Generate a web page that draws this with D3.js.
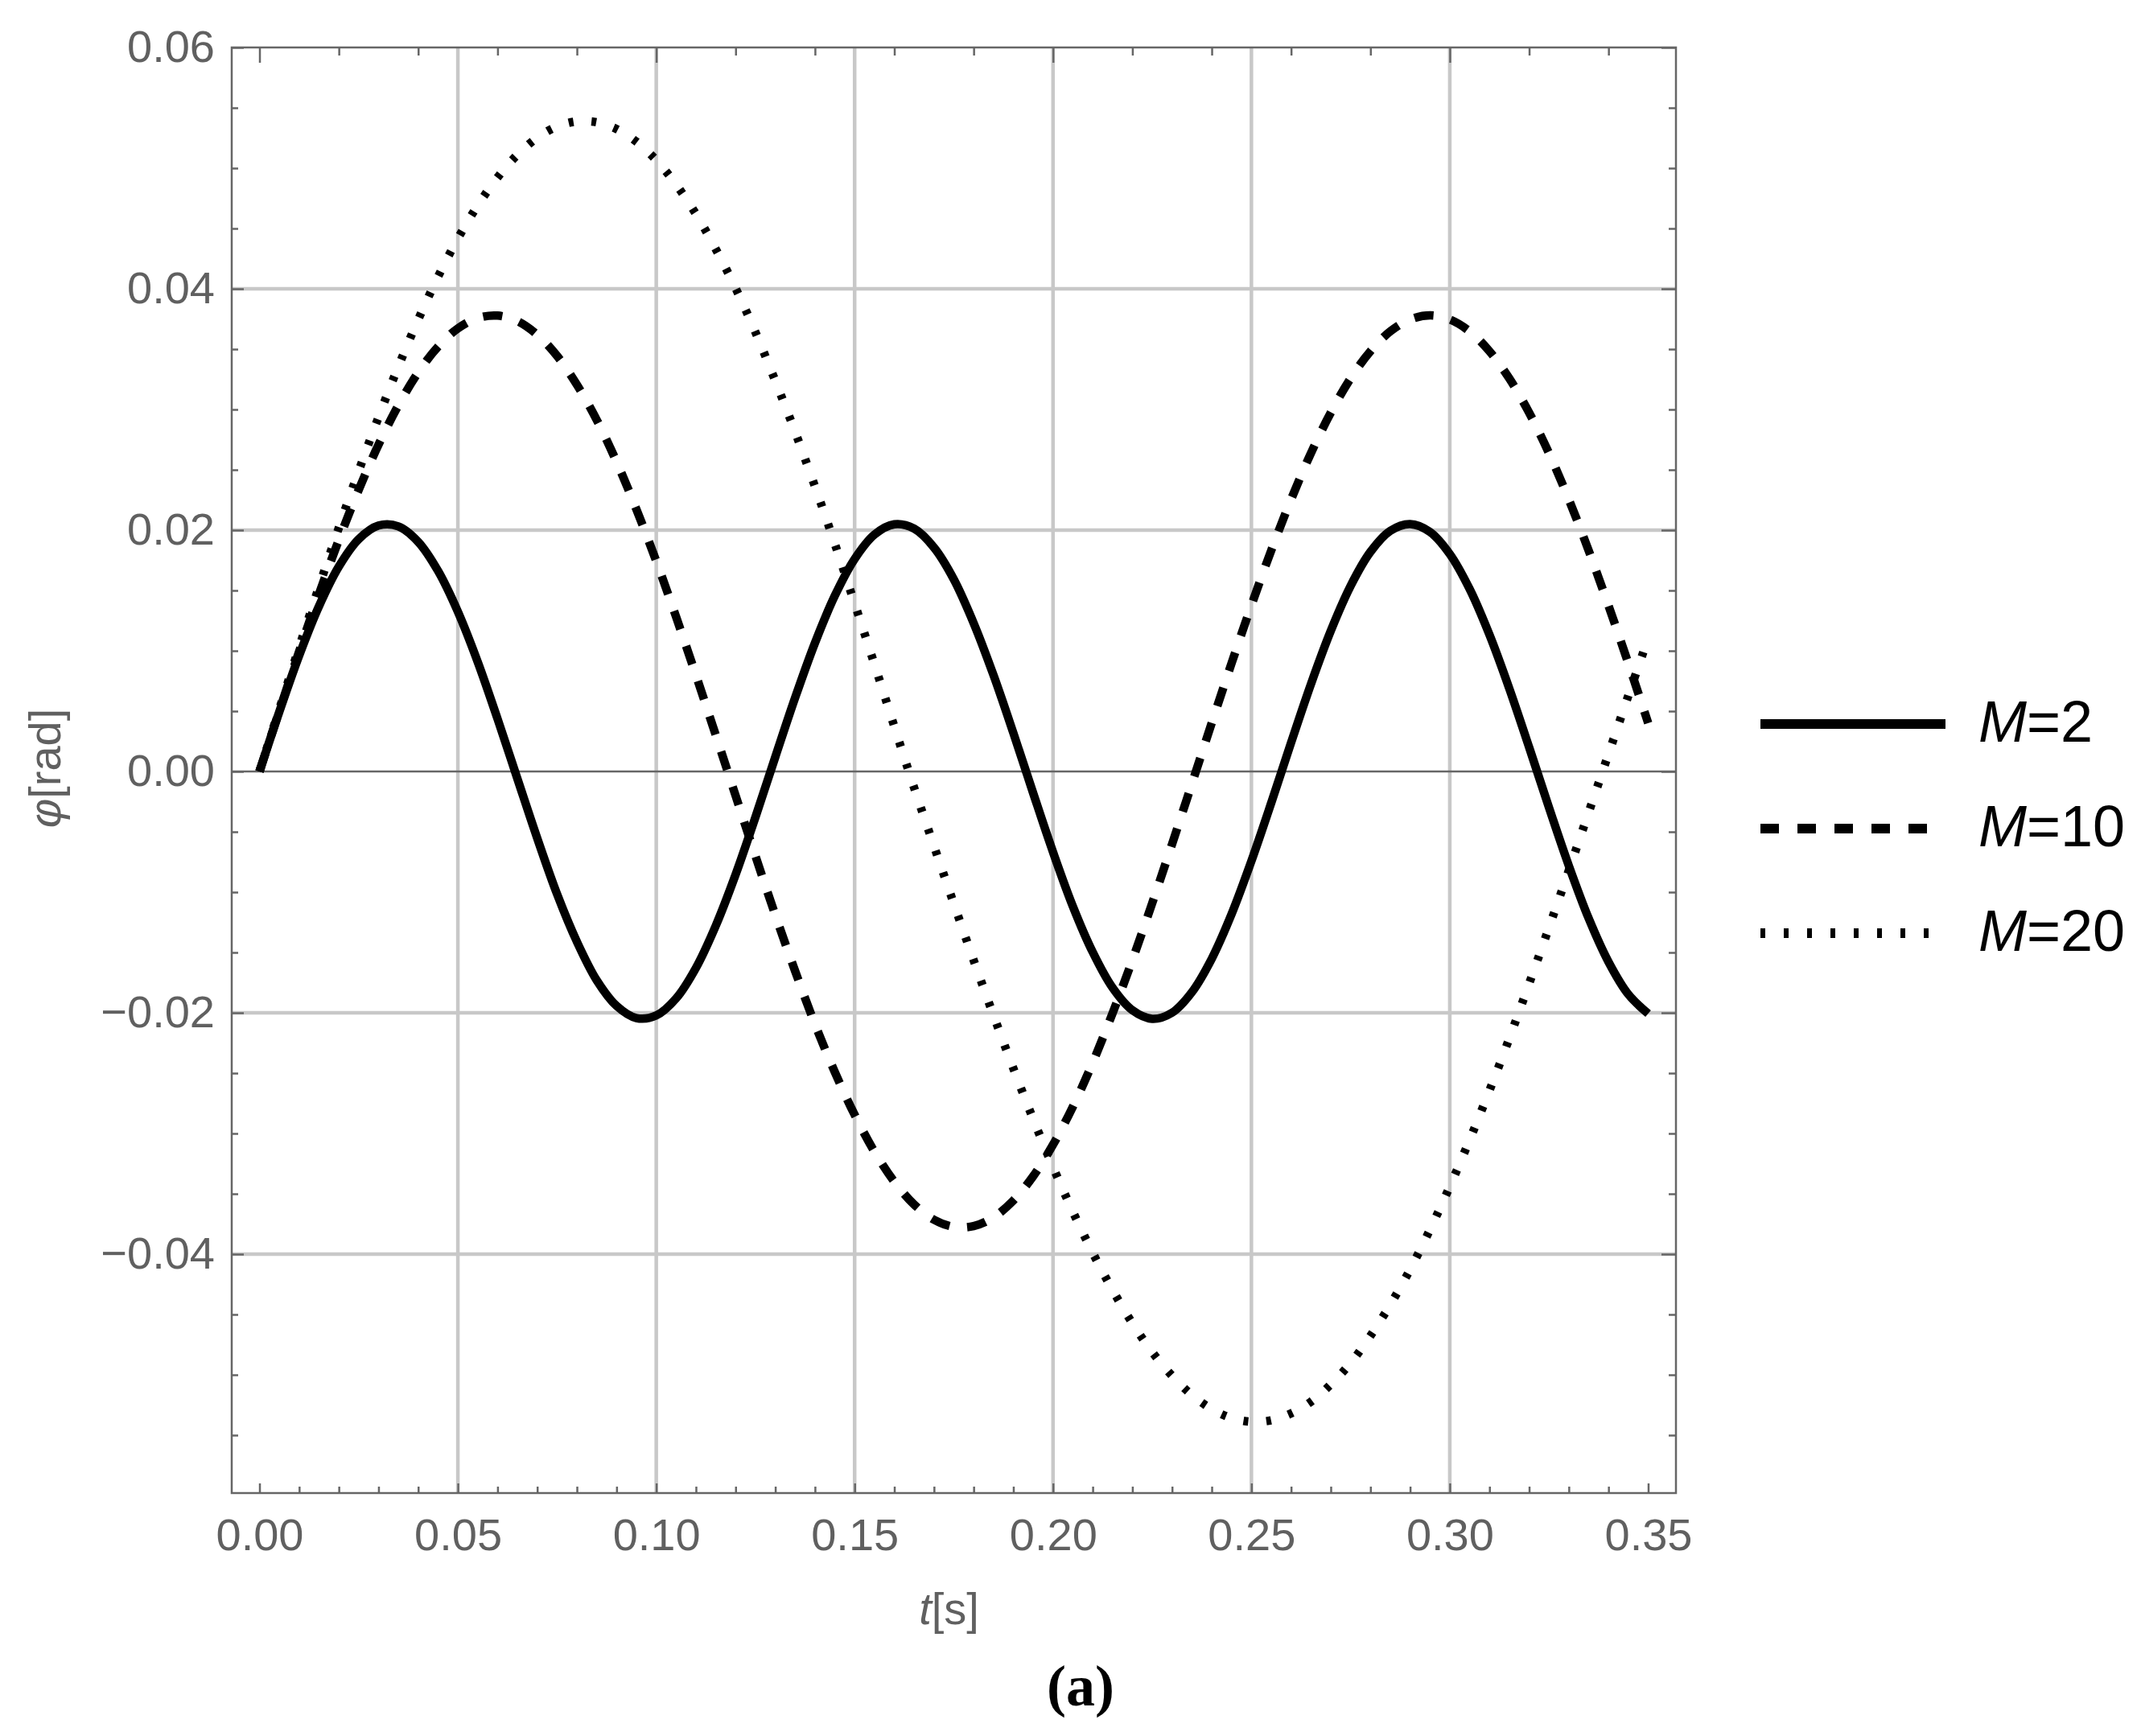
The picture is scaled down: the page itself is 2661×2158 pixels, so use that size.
<!DOCTYPE html>
<html>
<head>
<meta charset="utf-8">
<script src="https://cdn.jsdelivr.net/npm/d3@7"></script>
<style>
  html, body { margin: 0; padding: 0; background: #fff; }
  svg { display: block; }
</style>
</head>
<body>
<svg id="chart" width="2661" height="2158"></svg>
<script>
// ---------------- data ----------------
const seriesNames = ["M=2", "M=10", "M=20"];
const tValues = d3.range(71).map(i => +(i * 0.005).toFixed(3)); // 0 .. 0.35 s

const phiM2 = [
  0, 0.00495, 0.00961, 0.01370, 0.01698, 0.01925, 0.02038, 0.02031, 0.01903, 0.01662,
  0.01324, 0.00908, 0.00436, -0.00060, -0.00553, -0.01016, -0.01411, -0.01731, -0.01943, -0.02044,
  -0.02022, -0.01881, -0.01628, -0.01278, -0.00854, -0.00378, 0.00120, 0.00611, 0.01065, 0.01456,
  0.01761, 0.01963, 0.02048, 0.02012, 0.01856, 0.01592, 0.01229, 0.00798, 0.00319, -0.00180,
  -0.00668, -0.01118, -0.01497, -0.01792, -0.01979, -0.02050, -0.01999, -0.01829, -0.01552, -0.01182,
  -0.00742, -0.00260, 0.00239, 0.00724, 0.01165, 0.01538, 0.01820, 0.01994, 0.02050, 0.01985,
  0.01802, 0.01512, 0.01133, 0.00687, 0.00200, -0.00299, -0.00781, -0.01217, -0.01578, -0.01847,
  -0.02007
];
const phiM10 = [
  0, 0.00502, 0.00995, 0.01470, 0.01919, 0.02334, 0.02708, 0.03034, 0.03307, 0.03520,
  0.03672, 0.03758, 0.03778, 0.03732, 0.03619, 0.03444, 0.03205, 0.02913, 0.02566, 0.02172,
  0.01743, 0.01281, 0.00798, 0.00301, -0.00201, -0.00701, -0.01189, -0.01654, -0.02094, -0.02491,
  -0.02845, -0.03151, -0.03399, -0.03589, -0.03715, -0.03774, -0.03768, -0.03694, -0.03556, -0.03354,
  -0.03093, -0.02778, -0.02413, -0.02004, -0.01563, -0.01091, -0.00602, -0.00101, 0.00402, 0.00897,
  0.01377, 0.01832, 0.02254, 0.02638, 0.02973, 0.03258, 0.03483, 0.03647, 0.03746, 0.03780,
  0.03746, 0.03647, 0.03483, 0.03257, 0.02973, 0.02638, 0.02254, 0.01831, 0.01374, 0.00896,
  0.00401
];
const phiM20 = [
  0, 0.00517, 0.01029, 0.01531, 0.02020, 0.02490, 0.02936, 0.03356, 0.03745, 0.04100,
  0.04417, 0.04691, 0.04923, 0.05111, 0.05252, 0.05345, 0.05387, 0.05380, 0.05324, 0.05219,
  0.05066, 0.04864, 0.04620, 0.04329, 0.04005, 0.03640, 0.03237, 0.02814, 0.02362, 0.01887,
  0.01392, 0.00888, 0.00373, -0.00136, -0.00618, -0.01096, -0.01565, -0.02021, -0.02461, -0.02881,
  -0.03278, -0.03648, -0.03989, -0.04297, -0.04573, -0.04812, -0.05008, -0.05167, -0.05284, -0.05358,
  -0.05389, -0.05377, -0.05320, -0.05223, -0.05080, -0.04902, -0.04677, -0.04419, -0.04127, -0.03797,
  -0.03439, -0.03053, -0.02644, -0.02212, -0.01758, -0.01293, -0.00820, -0.00339, 0.00145, 0.00628,
  0.01106
];

const xMajorTicks = [0, 0.05, 0.10, 0.15, 0.20, 0.25, 0.30, 0.35];
const xGridTicks  = [0.05, 0.10, 0.15, 0.20, 0.25, 0.30];
const yMajorTicks = [-0.04, -0.02, 0, 0.02, 0.04, 0.06];
const yGridTicks  = [-0.04, -0.02, 0.02, 0.04];
const topMajorTicks = [0, 0.10, 0.20, 0.30];

// ---------------- layout ----------------
const SANS = "'Liberation Sans', Arial, sans-serif";
const SERIF = "'Liberation Serif', 'Times New Roman', serif";
const svg = d3.select("#chart");
const L = 288, R = 2083, T = 59, B = 1856;
const x = d3.scaleLinear().domain([-0.007, 0.357]).range([L, R]);
const y = d3.scaleLinear().domain([-0.0598, 0.06]).range([B, T]);
const frameColor = "#666";
const labelColor = "#606060";

svg.append("rect").attr("width", 2661).attr("height", 2158).attr("fill", "#fff");

// grid lines
const grid = svg.append("g");
grid.selectAll("line.vx").data(xGridTicks).join("line")
  .attr("x1", d => x(d)).attr("x2", d => x(d)).attr("y1", T).attr("y2", B)
  .attr("stroke", "#c8c8c8").attr("stroke-width", 4.5);
grid.selectAll("line.hy").data(yGridTicks).join("line")
  .attr("x1", L).attr("x2", R).attr("y1", d => y(d)).attr("y2", d => y(d))
  .attr("stroke", "#c8c8c8").attr("stroke-width", 4.5);
// zero axis
svg.append("line").attr("x1", L).attr("x2", R).attr("y1", y(0)).attr("y2", y(0))
  .attr("stroke", frameColor).attr("stroke-width", 2.5);

// axes (ticks point inward)
function styleAxis(g) {
  g.select(".domain").remove();
  g.selectAll(".tick line").attr("stroke", frameColor).attr("stroke-width", 2.5);
  g.selectAll(".tick text").attr("fill", labelColor).attr("font-size", 56)
    .style("font-family", SANS);
}
const fmt = d3.format(".2f");
const xMinor = d3.range(0, 0.3501, 0.01).map(v => +v.toFixed(2)).filter(v => !xMajorTicks.some(m => Math.abs(m - v) < 1e-9));
const yMinor = d3.range(-0.055, 0.0601, 0.005).map(v => +v.toFixed(3)).filter(v => !yMajorTicks.some(m => Math.abs(m - v) < 1e-9));
const topMinor = d3.range(0, 0.3501, 0.02).map(v => +v.toFixed(2)).filter(v => !topMajorTicks.some(m => Math.abs(m - v) < 1e-9));

svg.append("g").attr("transform", `translate(0,${B})`)
  .call(d3.axisBottom(x).tickValues(xMajorTicks).tickSize(-12).tickPadding(31).tickFormat(fmt)).call(styleAxis);
svg.append("g").attr("transform", `translate(0,${B})`)
  .call(d3.axisBottom(x).tickValues(xMinor).tickSize(-8).tickFormat("")).call(styleAxis);
svg.append("g").attr("transform", `translate(0,${T})`)
  .call(d3.axisTop(x).tickValues(topMajorTicks).tickSize(-19).tickFormat("")).call(styleAxis);
svg.append("g").attr("transform", `translate(0,${T})`)
  .call(d3.axisTop(x).tickValues(topMinor).tickSize(-10).tickFormat("")).call(styleAxis);
svg.append("g").attr("transform", `translate(${L},0)`)
  .call(d3.axisLeft(y).tickValues(yMajorTicks).tickSize(-15).tickPadding(21).tickFormat(fmt)).call(styleAxis);
svg.append("g").attr("transform", `translate(${L},0)`)
  .call(d3.axisLeft(y).tickValues(yMinor).tickSize(-8).tickFormat("")).call(styleAxis);
svg.append("g").attr("transform", `translate(${R},0)`)
  .call(d3.axisRight(y).tickValues(yMajorTicks).tickSize(-18).tickFormat("")).call(styleAxis);
svg.append("g").attr("transform", `translate(${R},0)`)
  .call(d3.axisRight(y).tickValues(yMinor).tickSize(-9).tickFormat("")).call(styleAxis);

// frame
svg.append("rect").attr("x", L).attr("y", T).attr("width", R - L).attr("height", B - T)
  .attr("fill", "none").attr("stroke", frameColor).attr("stroke-width", 2.5);

// curves
svg.append("clipPath").attr("id", "clip").append("rect")
  .attr("x", L).attr("y", T).attr("width", R - L).attr("height", B - T);
const styles = [
  { dash: null, w: 10.5 },
  { dash: "24,22", w: 10.5 },
  { dash: "6,22.5", w: 10.5 }
];
const allSeries = [phiM2, phiM10, phiM20];
const line = d3.line().x(d => x(d[0])).y(d => y(d[1])).curve(d3.curveCatmullRom.alpha(0.5));
const curves = svg.append("g").attr("clip-path", "url(#clip)");
allSeries.forEach((vals, i) => {
  curves.append("path")
    .datum(tValues.map((t, j) => [t, vals[j]]))
    .attr("d", line)
    .attr("fill", "none")
    .attr("stroke", "#000")
    .attr("stroke-width", styles[i].w)
    .attr("stroke-dasharray", styles[i].dash)
    .attr("stroke-linejoin", "round");
});

// axis titles
const xt = svg.append("text").attr("x", (L + R) / 2 - 6).attr("y", 2019)
  .attr("text-anchor", "middle").attr("font-size", 56).attr("fill", labelColor)
  .style("font-family", SANS);
xt.append("tspan").attr("font-style", "italic").text("t");
xt.append("tspan").text("[s]");

const yt = svg.append("text").attr("transform", `translate(75,${y(0) - 4}) rotate(-90)`)
  .attr("text-anchor", "middle").attr("font-size", 56).attr("fill", labelColor)
  .style("font-family", SANS);
yt.append("tspan").attr("font-style", "italic").text("φ");
yt.append("tspan").text("[rad]");

// legend
const legendY = [900, 1030, 1160];
const lg = svg.append("g");
seriesNames.forEach((name, i) => {
  lg.append("line").attr("x1", 2188).attr("x2", 2418)
    .attr("y1", legendY[i]).attr("y2", legendY[i])
    .attr("stroke", "#000").attr("stroke-width", 12)
    .attr("stroke-dasharray", i === 1 ? "23,23" : (i === 2 ? "6,23" : null));
  const parts = name.split("=");
  const tx = lg.append("text").attr("x", 2459).attr("y", legendY[i] + 22)
    .attr("font-size", 72).attr("fill", "#000").style("font-family", SANS);
  tx.append("tspan").attr("font-style", "italic").text(parts[0]);
  tx.append("tspan").text("=" + parts[1]);
});

// panel label
svg.append("text").attr("x", 1343).attr("y", 2120).attr("text-anchor", "middle")
  .style("font-family", SERIF)
  .attr("font-weight", "bold").attr("font-size", 72).attr("fill", "#000")
  .text("(a)");
</script>
</body>
</html>
